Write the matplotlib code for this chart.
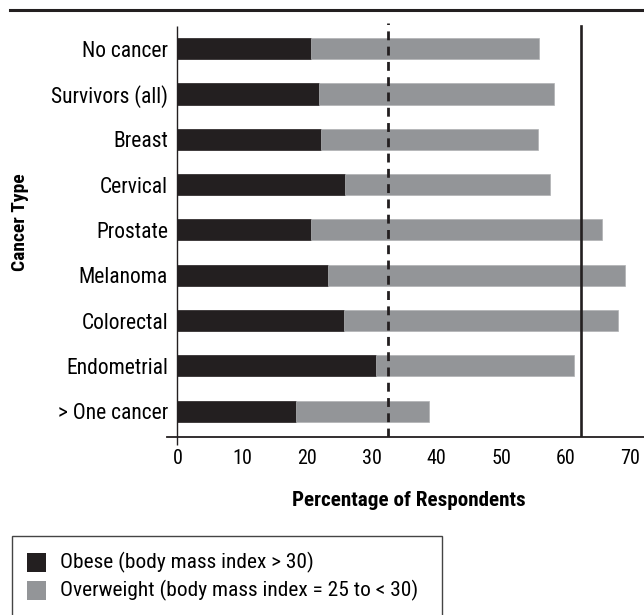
import matplotlib
matplotlib.use("Agg")
import matplotlib.pyplot as plt
from matplotlib.lines import Line2D
from matplotlib.patches import Rectangle

plt.rcParams['font.family'] = ['Liberation Sans Narrow', 'Roboto Condensed', 'Liberation Sans', 'DejaVu Sans']

categories = ["No cancer", "Survivors (all)", "Breast", "Cervical", "Prostate",
              "Melanoma", "Colorectal", "Endometrial", "> One cancer"]
obese = [20.7, 21.8, 22.2, 25.9, 20.7, 23.3, 25.8, 30.6, 18.3]
overweight = [35.2, 36.4, 33.5, 31.6, 44.9, 45.9, 42.3, 30.7, 20.6]
xticks = [0, 10, 20, 30, 40, 50, 60, 70]
dashed_ref = 32.6
solid_ref = 62.4
legend_labels = ["Obese (body mass index > 30)", "Overweight (body mass index = 25 to < 30)"]

BLACK = "#231f20"
GRAY = "#939598"

W, H = 644, 615
fig = plt.figure(figsize=(W / 100, H / 100), dpi=100)

def fx(px):
    return px / W

def fy(py):
    return 1 - py / H

ax_left, ax_right, ax_top, ax_bottom = 167, 644, 23, 436.7
ax = fig.add_axes([fx(ax_left), fy(ax_bottom), fx(ax_right - ax_left), (ax_bottom - ax_top) / H])

ypos = list(range(len(categories)))
ax.barh(ypos, obese, height=0.464, color=BLACK, edgecolor=BLACK, linewidth=0.5)
ax.barh(ypos, overweight, left=obese, height=0.464, color=GRAY, edgecolor="#b0b2b4", linewidth=0.5)

ax.set_xlim(-1.62, 72.09)
ax.set_ylim(8.563, -0.567)

for s in ["top", "right", "left"]:
    ax.spines[s].set_visible(False)
ax.spines["bottom"].set_linewidth(1.3)
ax.spines["bottom"].set_color("#231f20")

# y axis line at data x=0, extending slightly below the x axis
ax.plot([0, 0], [1.0 - 0.007, -0.02], transform=ax.get_xaxis_transform(), color=BLACK,
        lw=1.0, clip_on=False, solid_capstyle="butt")

ax.axvline(dashed_ref, ymin=0, ymax=1, color=BLACK, lw=2.0, linestyle=(0, (3.2, 2.3)))
ax.axvline(solid_ref, ymin=0, ymax=1 - 3 / (ax_bottom - ax_top), color=BLACK, lw=1.9)

ax.set_xticks(xticks)
ax.set_xticklabels([str(t) for t in xticks], fontsize=14.5)
ax.set_yticks(ypos)
ax.set_yticklabels(categories, fontsize=15.5)
ax.tick_params(axis="x", length=0, pad=8.5)
ax.tick_params(axis="y", length=0, pad=-0.7)
for lab in ax.get_yticklabels():
    lab.set_horizontalalignment("right")

fig.text(fx(409), fy(500), "Percentage of Respondents", fontsize=15.2, fontweight="bold",
         ha="center", va="center")
fig.text(fx(20), fy(222), "Cancer Type", fontsize=14, fontweight="bold",
         ha="center", va="center", rotation=90)

# top rule
fig.add_artist(Line2D([fx(10), fx(644)], [fy(9.7), fy(9.7)], color=BLACK, lw=2.2))

# legend box
fig.add_artist(Rectangle((fx(11.7), fy(620)), fx(442 - 11.7), (620 - 535.7) / H,
                         facecolor="none", edgecolor="#444444", lw=1.0))
sq = 18.5
for i, (lab, col) in enumerate(zip(legend_labels, [BLACK, GRAY])):
    cy = 562.5 + i * 28
    fig.add_artist(Rectangle((fx(27.3), fy(cy + sq / 2)), sq / W, sq / H,
                             facecolor=col, edgecolor="none"))
    fig.text(fx(60), fy(cy), lab, fontsize=15.4, ha="left", va="center")

fig.savefig("out.png", dpi=100)
